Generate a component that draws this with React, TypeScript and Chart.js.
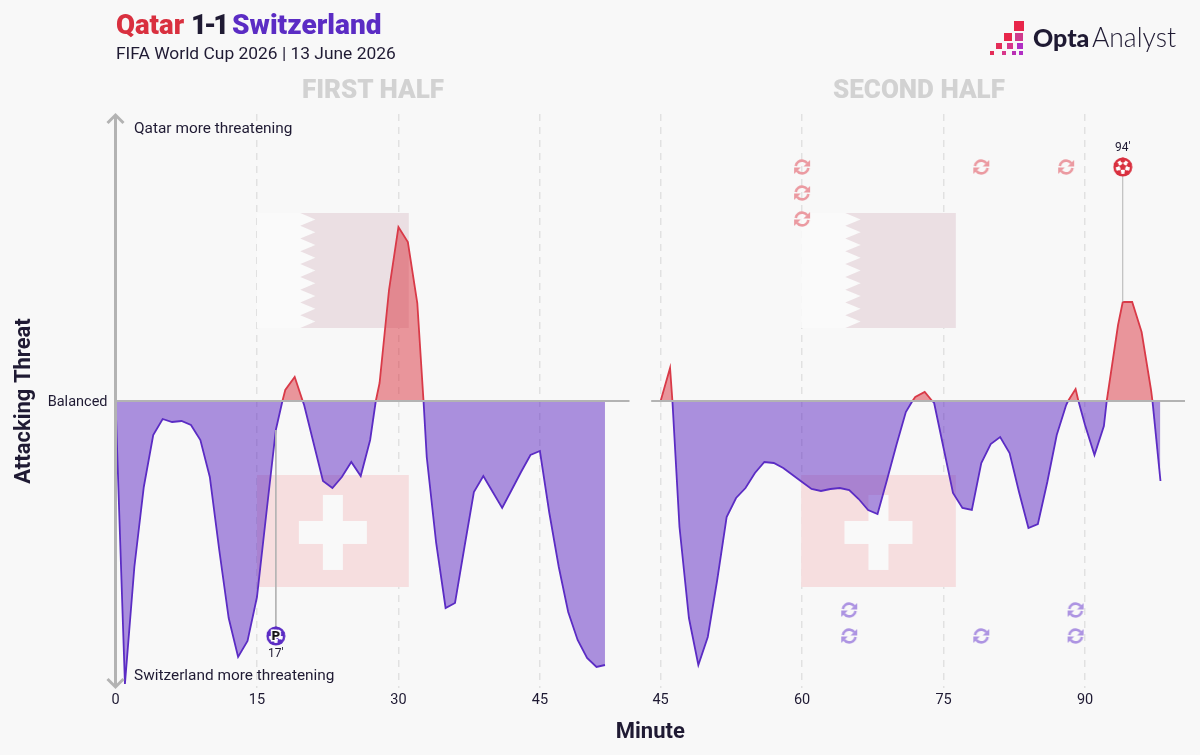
import React, { useEffect, useRef } from "react";
import { Chart, registerables } from "chart.js";

Chart.register(...registerables);

const HALF_OFFSET = 12.8;

const firstHalfMinutes = [0,1,2,3,4,5,6,7,8,9,10,11,12,13,14,15,16,17,17.7,18,19,19.85,20,21,22,23,24,25,26,27,27.6,28,29,30,31,32,32.66,33,34,35,36,37,38,39,40,41,42,43,44,45,46,47,48,49,50,51,51.9];
const firstHalfThreat = [0,-283,-166,-86,-34,-18,-21,-20,-24,-39,-76,-149,-217,-256,-240,-196,-112,-29,0,11,24,0,-4,-42,-80,-87,-76,-61,-75,-39,0,18,111,174,159,98,0,-56,-142,-207,-202,-146,-91,-75,-91,-107,-89,-71,-54,-50,-112,-166,-211,-239,-257,-266,-264];

const secondHalfMinutes = [45,46,46.25,47,48,49,50,51,52,53,54,55,56,57,58,59,60,61,62,63,64,65,66,67,68,69,70,71,71.7,72,73,73.8,74,75,76,77,78,79,80,81,82,83,84,85,86,87,88,88.2,89,89.3,90,91,92,92.3,93.5,94,95,96,97,97.15,98];
const secondHalfThreat = [0,33,0,-126,-217,-264,-236,-179,-116,-97,-87,-72,-61,-62,-67,-74,-81,-88,-90,-88,-87,-89,-98,-109,-113,-79,-44,-11,0,4,9,0,-2,-47,-92,-107,-109,-62,-43,-36,-52,-91,-127,-123,-81,-34,-4,0,12,0,-24,-54,-25,0,76,99,99,69,11,0,-80];

const firstHalfTicks = [0, 15, 30, 45];
const secondHalfTicks = [45, 60, 75, 90];

const qatarSubMinutes = [60, 60, 60, 79, 88];
const qatarSubLevels = [234, 208, 182, 234, 234];
const swissSubMinutes = [65, 65, 79, 89, 89];
const swissSubLevels = [-209, -235, -235, -209, -235];

const qatarGoalMinute = [94];
const qatarGoalLevel = [234];
const qatarGoalShotLevel = [99];
const swissGoalMinute = [17];
const swissGoalLevel = [-235];
const swissGoalShotLevel = [-29];

const BG = "#f8f8f8";
const RED = "#d93a48";
const PURPLE = "#5b2cc4";
const RED_FILL = "rgba(217,50,62,0.5)";
const PURPLE_FILL = "rgba(91,38,194,0.5)";
const GREY = "#b3b3b3";
const INK = "#1f1a33";
const FONT = "'Roboto', sans-serif";

function toPlot(minute: number, second: boolean) {
  return second ? minute + HALF_OFFSET : minute;
}

function subIcon(color: string) {
  const s = 18;
  const c = document.createElement("canvas");
  c.width = s;
  c.height = s;
  const g = c.getContext("2d")!;
  g.strokeStyle = color;
  g.fillStyle = color;
  g.lineWidth = 2.6;
  const m = s / 2;
  g.beginPath();
  g.arc(m, m, 6.4, Math.PI * 1.05, Math.PI * 1.8);
  g.stroke();
  g.beginPath();
  g.arc(m, m, 6.4, Math.PI * 0.05, Math.PI * 0.8);
  g.stroke();
  g.beginPath();
  g.moveTo(17, 2);
  g.lineTo(17, 8.6);
  g.lineTo(10.4, 8.6);
  g.closePath();
  g.fill();
  g.beginPath();
  g.moveTo(1, 16);
  g.lineTo(1, 9.4);
  g.lineTo(7.6, 9.4);
  g.closePath();
  g.fill();
  return c;
}

function ballIcon(color: string, penalty: boolean) {
  const s = 20;
  const c = document.createElement("canvas");
  c.width = s;
  c.height = s;
  const g = c.getContext("2d")!;
  const m = s / 2;
  g.fillStyle = "#ffffff";
  g.beginPath();
  g.arc(m, m, 7.4, 0, Math.PI * 2);
  g.fill();
  g.fillStyle = color;
  g.strokeStyle = color;
  g.lineWidth = 1;
  g.beginPath();
  for (let i = 0; i < 5; i++) {
    const a = -Math.PI / 2 + (i * 2 * Math.PI) / 5;
    const x = m + 3.4 * Math.cos(a);
    const y = m + 3.4 * Math.sin(a);
    if (i === 0) g.moveTo(x, y);
    else g.lineTo(x, y);
  }
  g.closePath();
  g.fill();
  for (let i = 0; i < 5; i++) {
    const a = -Math.PI / 2 + (i * 2 * Math.PI) / 5;
    g.beginPath();
    g.moveTo(m, m);
    g.lineTo(m + 7 * Math.cos(a), m + 7 * Math.sin(a));
    g.stroke();
    g.beginPath();
    g.arc(m + 7 * Math.cos(a), m + 7 * Math.sin(a), 2.5, 0, Math.PI * 2);
    g.fill();
  }
  g.lineWidth = 2.4;
  g.beginPath();
  g.arc(m, m, 8.3, 0, Math.PI * 2);
  g.stroke();
  if (penalty) {
    g.font = "900 13px " + FONT;
    g.textAlign = "center";
    g.textBaseline = "middle";
    g.lineWidth = 3;
    g.strokeStyle = "#ffffff";
    g.strokeText("P", m, m + 0.5);
    g.fillStyle = "#111111";
    g.fillText("P", m, m + 0.5);
  }
  return c;
}

const swissFlagMinutes = [
  { from: 15, to: 31.1 },
  { from: toPlot(59.9, true), to: toPlot(76.3, true) },
];
const qatarFlagMinutes = swissFlagMinutes;
const swissFlagLevels = { top: -74, bottom: -186 };
const qatarFlagLevels = { top: 188, bottom: 73 };

const flagsPlugin = {
  id: "flags",
  beforeDatasetsDraw(chart: any) {
    const g = chart.ctx;
    const { x, y } = chart.scales;
    g.save();
    for (const m of qatarFlagMinutes) {
      const l = x.getPixelForValue(m.from);
      const r = x.getPixelForValue(m.to);
      const t = y.getPixelForValue(qatarFlagLevels.top);
      const b = y.getPixelForValue(qatarFlagLevels.bottom);
      const w = r - l;
      const teeth = 9;
      const h = (b - t) / teeth;
      g.fillStyle = "#fafafa";
      g.fillRect(l, t, w * 0.36, b - t);
      g.fillStyle = "#ebdfe3";
      g.beginPath();
      g.moveTo(r, t);
      g.lineTo(r, b);
      g.lineTo(l + w * 0.285, b);
      for (let i = teeth - 1; i >= 0; i--) {
        g.lineTo(l + w * 0.385, t + (i + 0.5) * h);
        g.lineTo(l + w * 0.285, t + i * h);
      }
      g.closePath();
      g.fill();
    }
    for (const m of swissFlagMinutes) {
      const l = x.getPixelForValue(m.from);
      const r = x.getPixelForValue(m.to);
      const t = y.getPixelForValue(swissFlagLevels.top);
      const b = y.getPixelForValue(swissFlagLevels.bottom);
      const w = r - l;
      const h = b - t;
      g.fillStyle = "#f6dedf";
      g.fillRect(l, t, w, h);
      g.fillStyle = "#f9f9f9";
      const cx = l + w * 0.5;
      const cy = t + h * 0.513;
      g.fillRect(cx - 10, cy - 37.5, 20, 75);
      g.fillRect(cx - 34, cy - 11.5, 68, 23);
    }
    g.restore();
  },
};

const decorPlugin = {
  id: "decor",
  afterDraw(chart: any) {
    const g = chart.ctx;
    const { x, y } = chart.scales;
    const ax = x.getPixelForValue(0);
    const top = chart.chartArea.top;
    const bottom = chart.chartArea.bottom;
    g.save();
    g.strokeStyle = GREY;
    g.lineWidth = 3;
    g.beginPath();
    g.moveTo(ax - 8, top + 9);
    g.lineTo(ax, top + 1);
    g.lineTo(ax + 8, top + 9);
    g.moveTo(ax, top + 1);
    g.lineTo(ax, bottom - 1);
    g.moveTo(ax - 8, bottom - 9);
    g.lineTo(ax, bottom - 1);
    g.lineTo(ax + 8, bottom - 9);
    g.stroke();

    g.fillStyle = INK;
    g.font = "12px " + FONT;
    g.textAlign = "center";
    g.textBaseline = "middle";
    g.fillText(
      swissGoalMinute[0] + "'",
      x.getPixelForValue(toPlot(swissGoalMinute[0], false)),
      y.getPixelForValue(swissGoalLevel[0]) + 18
    );
    g.fillText(
      qatarGoalMinute[0] + "'",
      x.getPixelForValue(toPlot(qatarGoalMinute[0], true)),
      y.getPixelForValue(qatarGoalLevel[0]) - 19
    );
    g.restore();
  },
};

function pts(ms: number[], vs: number[], second: boolean) {
  return ms.map((m, i) => ({ x: toPlot(m, second), y: vs[i] }));
}

function threatDataset(label: string, data: { x: number; y: number }[]) {
  return {
    type: "line" as const,
    label,
    data,
    borderWidth: 1.8,
    pointRadius: 0,
    tension: 0,
    borderColor: PURPLE,
    fill: { target: "origin", above: RED_FILL, below: PURPLE_FILL },
    segment: {
      borderColor: (c: any) => (c.p0.parsed.y + c.p1.parsed.y > 0 ? RED : PURPLE),
    },
  };
}

function lineDataset(label: string, data: { x: number; y: number }[], width: number) {
  return {
    type: "line" as const,
    label,
    data,
    borderColor: GREY,
    borderWidth: width,
    pointRadius: 0,
    fill: false,
  };
}

function iconDataset(label: string, data: { x: number; y: number }[], icon: HTMLCanvasElement) {
  return {
    type: "scatter" as const,
    label,
    data,
    pointStyle: icon,
    pointRadius: 9,
    showLine: false,
  };
}

export default function App() {
  const ref = useRef<HTMLCanvasElement | null>(null);

  useEffect(() => {
    document.body.style.margin = "0";
    document.body.style.background = BG;
    const tickPositions = [
      ...firstHalfTicks.map((t) => toPlot(t, false)),
      ...secondHalfTicks.map((t) => toPlot(t, true)),
    ];
    const chart = new Chart(ref.current!, {
      type: "line",
      data: {
        datasets: [
          iconDataset("Qatar goal", pts(qatarGoalMinute, qatarGoalLevel, true), ballIcon("#d9303f", false)),
          iconDataset("Switzerland penalty", pts(swissGoalMinute, swissGoalLevel, false), ballIcon("#5b2cc4", true)),
          iconDataset("Qatar subs", pts(qatarSubMinutes, qatarSubLevels, true), subIcon("#eb9aa1")),
          iconDataset("Switzerland subs", pts(swissSubMinutes, swissSubLevels, true), subIcon("#ad94e2")),
          lineDataset("Baseline first half", [{ x: 0, y: 0 }, { x: 54.5, y: 0 }], 2),
          lineDataset("Baseline second half", [{ x: 56.8, y: 0 }, { x: 113.4, y: 0 }], 2),
          lineDataset("Qatar goal line", [
            { x: toPlot(qatarGoalMinute[0], true), y: qatarGoalShotLevel[0] },
            { x: toPlot(qatarGoalMinute[0], true), y: qatarGoalLevel[0] },
          ], 1),
          lineDataset("Switzerland goal line", [
            { x: toPlot(swissGoalMinute[0], false), y: swissGoalShotLevel[0] },
            { x: toPlot(swissGoalMinute[0], false), y: swissGoalLevel[0] },
          ], 1),
          threatDataset("First half", pts(firstHalfMinutes, firstHalfThreat, false)),
          threatDataset("Second half", pts(secondHalfMinutes, secondHalfThreat, true)),
        ],
      } as any,
      options: {
        animation: false,
        responsive: false,
        layout: { padding: { top: 114, right: 15, left: 0, bottom: 0 } },
        plugins: { legend: { display: false }, tooltip: { enabled: false } },
        scales: {
          x: {
            type: "linear",
            min: 0,
            max: 113.4,
            afterBuildTicks: (s: any) => {
              s.ticks = tickPositions.map((value) => ({ value }));
            },
            afterFit: (s: any) => {
              s.height = 67;
            },
            grid: {
              drawTicks: false,
              tickLength: 0,
              color: (c: any) => (c.tick && c.tick.value === 0 ? "rgba(0,0,0,0)" : "#e1e1e1"),
              lineWidth: 1.5,
            },
            border: { display: false, dash: [7, 6] },
            ticks: {
              autoSkip: false,
              maxRotation: 0,
              padding: 4,
              color: INK,
              font: { family: FONT, size: 14.5 },
              callback: (v: any) => String(Math.round(v > 50 ? v - HALF_OFFSET : v)),
            },
            title: {
              display: true,
              text: "Minute",
              color: INK,
              font: { family: FONT, size: 22, weight: "bold" },
              padding: { top: 0, bottom: 9 },
            },
          },
          y: {
            min: -287,
            max: 287,
            afterBuildTicks: (s: any) => {
              s.ticks = [{ value: 0 }];
            },
            afterFit: (s: any) => {
              s.width = 115.5;
            },
            grid: { display: false },
            border: { display: false },
            ticks: {
              padding: 0,
              labelOffset: 1,
              color: INK,
              font: { family: FONT, size: 14.5 },
              callback: () => "Balanced",
            },
            title: {
              display: true,
              text: "Attacking Threat",
              color: INK,
              font: { family: FONT, size: 22, weight: "bold" },
              padding: { top: 11, bottom: 0 },
            },
          },
        },
      } as any,
      plugins: [flagsPlugin, decorPlugin] as any,
    });
    return () => chart.destroy();
  }, []);

  const abs = (left: number, top: number): React.CSSProperties => ({
    position: "absolute",
    left,
    top,
    whiteSpace: "nowrap",
    fontFamily: FONT,
  });
  const logoSquares = [
    [1014, 21, 9.5, "#e8264a"],
    [1004, 33, 8, "#e8264a"],
    [1015, 33, 8, "#d03a8c"],
    [996, 43, 6, "#e42d58"],
    [1007, 43, 6, "#d8368a"],
    [1017, 43, 6, "#b12fc4"],
    [990, 51, 4, "#e42d58"],
    [1002, 51, 4, "#d8368a"],
    [1012, 51, 4, "#b930b4"],
    [1019, 51, 4, "#b12fc4"],
  ] as const;

  return (
    <div style={{ position: "absolute", left: 0, top: 0, width: 1200, height: 755, background: BG, overflow: "hidden" }}>
      <canvas ref={ref} width={1200} height={755} style={{ position: "absolute", left: 0, top: 0, display: "block" }} />
      <div style={{ ...abs(116, 8), fontSize: 27.5, fontWeight: 900, lineHeight: "34px", color: INK }}>
        <span style={{ color: "#d9303f" }}>Qatar</span>{" "}
        <span style={{ letterSpacing: -3, marginRight: -1 }}>1-1</span>{" "}
        <span style={{ color: "#5b2cc4", fontSize: 28 }}>Switzerland</span>
      </div>
      <div style={{ ...abs(116, 42), fontSize: 17.4, lineHeight: "22px", color: INK }}>FIFA World Cup 2026 | 13 June 2026</div>
      <div style={{ ...abs(302, 74), fontSize: 26, fontWeight: 900, lineHeight: "30px", color: "#d2d2d2" }}>FIRST HALF</div>
      <div style={{ ...abs(833, 74), fontSize: 26, fontWeight: 900, lineHeight: "30px", color: "#d2d2d2" }}>SECOND HALF</div>
      <div style={{ ...abs(134, 119), fontSize: 15.4, lineHeight: "18px", color: INK }}>Qatar more threatening</div>
      <div style={{ ...abs(134, 666), fontSize: 15.4, lineHeight: "18px", color: INK }}>Switzerland more threatening</div>
      {logoSquares.map(([l, t, s, c], i) => (
        <div key={i} style={{ position: "absolute", left: l, top: t, width: s, height: s, background: c }} />
      ))}
      <div style={{ ...abs(1033, 19), fontSize: 25, fontWeight: 900, lineHeight: "36px", color: INK, fontFamily: "'Lato', sans-serif" }}>Opta</div>
      <div style={{ ...abs(1092, 19), fontSize: 26.5, fontWeight: 300, lineHeight: "36px", color: INK, fontFamily: "'Lato', sans-serif" }}>Analyst</div>
    </div>
  );
}
